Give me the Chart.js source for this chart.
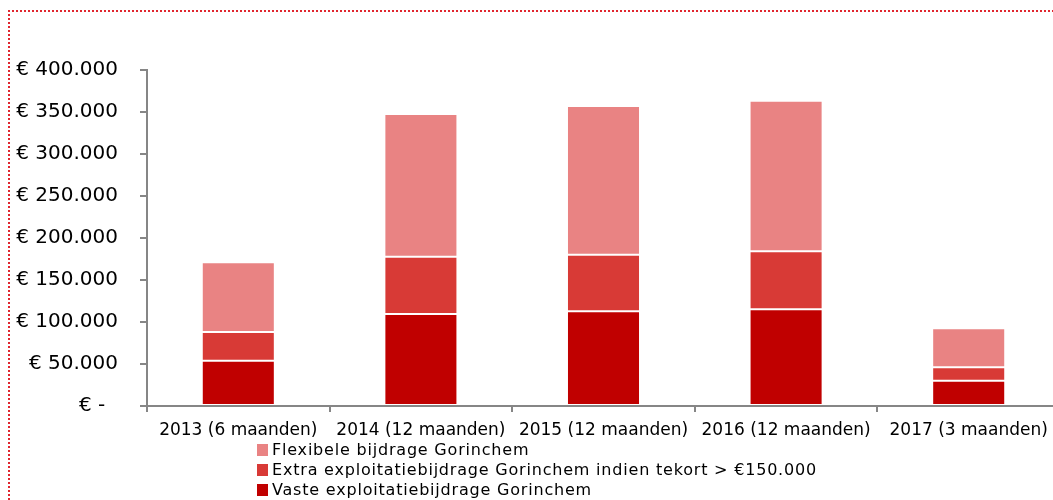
<!DOCTYPE html>
<html>
<head>
<meta charset="utf-8">
<script src="https://cdn.jsdelivr.net/npm/chart.js@4/dist/chart.umd.min.js"></script>
<style>
html,body{margin:0;padding:0;background:#fff;overflow:hidden;width:1053px;height:500px}
#wrap{position:absolute;left:0;top:0;width:1060px;height:500px}
</style>
</head>
<body>
<div id="wrap"><canvas id="c" width="1060" height="500" style="width:1060px;height:500px"></canvas></div>
<script>
const categories = ['2013 (6 maanden)', '2014 (12 maanden)', '2015 (12 maanden)', '2016 (12 maanden)', '2017 (3 maanden)'];
const vaste = [54000, 109500, 112700, 115100, 30100];
const extra = [34000, 68200, 67400, 69000, 15900];
const flexibel = [83000, 169900, 177000, 179400, 46500];
const seriesNames = ['Vaste exploitatiebijdrage Gorinchem', 'Extra exploitatiebijdrage Gorinchem indien tekort > €150.000', 'Flexibele bijdrage Gorinchem'];
const seriesColors = ['#C00000', '#D83A36', '#E98383'];
const yMin = 0, yMax = 400000, yStep = 50000;

function fmt(v) {
  if (v === 0) return '€ -  ';
  return '€ ' + String(v).replace(/\B(?=(\d{3})+(?!\d))/g, '.');
}

const frame = {
  id: 'frame',
  beforeDraw(chart) {
    const ctx = chart.ctx;
    ctx.save();
    ctx.strokeStyle = '#E0262E';
    ctx.lineWidth = 2;
    ctx.setLineDash([2, 2]);
    ctx.beginPath();
    ctx.moveTo(9, 520);
    ctx.lineTo(9, 11);
    ctx.lineTo(1070, 11);
    ctx.stroke();
    ctx.restore();
  }
};

const vLegend = {
  id: 'vLegend',
  afterDraw(chart) {
    const ctx = chart.ctx;
    const ds = chart.data.datasets;
    const order = [2, 1, 0];
    ctx.save();
    ctx.font = '16px "DejaVu Sans"';
    ctx.letterSpacing = '0.8px';
    ctx.textBaseline = 'middle';
    ctx.textAlign = 'left';
    order.forEach((di, row) => {
      const yc = 450 + row * 20;
      ctx.fillStyle = ds[di].backgroundColor;
      ctx.fillRect(257, yc - 6, 11, 12);
      ctx.fillStyle = '#000';
      ctx.fillText(ds[di].label, 272, yc + 0.5);
    });
    ctx.restore();
  }
};

Chart.defaults.font.family = '"DejaVu Sans"';
Chart.defaults.color = '#000';

new Chart(document.getElementById('c'), {
  type: 'bar',
  data: {
    labels: categories,
    datasets: [
      { label: seriesNames[0], data: vaste, backgroundColor: seriesColors[0] },
      { label: seriesNames[1], data: extra, backgroundColor: seriesColors[1] },
      { label: seriesNames[2], data: flexibel, backgroundColor: seriesColors[2] }
    ].map(d => Object.assign(d, { barPercentage: 0.4, categoryPercentage: 1.0, borderWidth: 1, borderColor: 'rgba(255,255,255,0.18)', borderSkipped: false }))
  },
  options: {
    responsive: false,
    animation: false,
    events: [],
    layout: { padding: { top: 70, bottom: 50, left: 0, right: 0 } },
    plugins: { legend: { display: false }, tooltip: { enabled: false }, title: { display: false } },
    scales: {
      x: {
        stacked: true,
        grid: { display: true, drawOnChartArea: false, drawTicks: true, tickLength: 6, color: '#868686', lineWidth: 2, offset: true },
        border: { display: true, color: '#868686', width: 2 },
        ticks: { font: { size: 17 }, color: '#000', padding: 8, autoSkip: false, maxRotation: 0, minRotation: 0 },
        afterFit(s) { s.height = 44; }
      },
      y: {
        stacked: true,
        min: yMin, max: yMax,
        grid: { display: true, drawOnChartArea: false, drawTicks: true, tickLength: 7, color: '#868686', lineWidth: 2 },
        border: { display: true, color: '#868686', width: 2 },
        ticks: { stepSize: yStep, font: { size: 20 }, color: '#000', padding: 22, callback: v => fmt(v) },
        afterFit(s) { s.width = 147; }
      }
    }
  },
  plugins: [frame, vLegend]
});
</script>
</body>
</html>
